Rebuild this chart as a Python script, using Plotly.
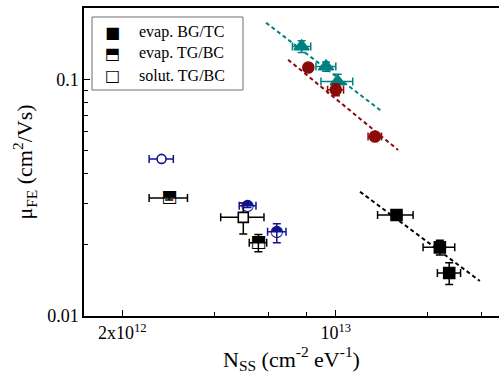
import math
import plotly.graph_objects as go

# ---------------- data ----------------
# evap. BG/TC (black filled squares)
bgtc_x = [1.58e13, 2.19e13, 2.35e13]
bgtc_y = [0.0267, 0.0195, 0.0152]
bgtc_xerr_m = [0.21e13, 0.26e13, 0.20e13]
bgtc_xerr_p = [0.21e13, 0.26e13, 0.21e13]
bgtc_yerr = [0.0007, 0.0014, 0.0016]

# evap. TG/BC (black half-filled squares)
tgbc_x = [2.85e12, 5.58e12]
tgbc_y = [0.0315, 0.0204]
tgbc_xerr_m = [0.40e12, 0.37e12]
tgbc_xerr_p = [0.42e12, 0.36e12]
tgbc_yerr = [0.0006, 0.0017]

# solut. TG/BC (black open squares)
sol_x = [4.98e12]
sol_y = [0.0261]
sol_xerr_m = [0.78e12]
sol_xerr_p = [0.84e12]
sol_yerr = [0.0039]

# teal triangles
tri_x = [7.73e12, 9.29e12, 1.014e13]
tri_y = [0.1376, 0.1132, 0.0979]
tri_xerr_m = [0.52e12, 0.68e12, 1.20e12]
tri_xerr_p = [0.55e12, 0.71e12, 1.22e12]
tri_yerr = [0.0078, 0.0050, 0.0070]

# dark red circles
red_x = [8.13e12, 1.00e13, 1.343e13]
red_y = [0.1122, 0.0903, 0.0573]
red_xerr = [0.0, 0.60e12, 0.68e12]
red_yerr = [0.0, 0.0051, 0.0010]

# blue open circle
bo_x = [2.69e12]
bo_y = [0.0461]
bo_xerr_m = [0.24e12]
bo_xerr_p = [0.25e12]
bo_yerr = [0.0008]

# blue half-filled circles
bh_x = [5.14e12, 6.41e12]
bh_y = [0.0292, 0.0227]
bh_xerr_m = [0.31e12, 0.43e12]
bh_xerr_p = [0.34e12, 0.46e12]
bh_yerr_m = [0.0005, 0.0023]
bh_yerr_p = [0.0005, 0.0018]

# dashed fit lines (end points)
fit_black_x = [1.20e13, 2.96e13]
fit_black_y = [0.0335, 0.01406]
fit_teal_x = [5.91e12, 1.406e13]
fit_teal_y = [0.1734, 0.0736]
fit_red_x = [6.98e12, 1.598e13]
fit_red_y = [0.1210, 0.0503]

# ticks
x_major = [2e12, 1e13]
x_major_text = ["2x10<sup>12</sup>", "10<sup>13</sup>"]
x_minor = [4e12, 6e12, 8e12, 2e13, 3e13]
y_major = [0.01, 0.1]
y_major_text = ["0.01", "0.1"]
y_minor = [0.02, 0.03, 0.04, 0.05, 0.06, 0.07, 0.08, 0.09]

legend_labels = ["evap. BG/TC", "evap. TG/BC", "solut. TG/BC"]
legend_glyphs = ["\u25A0", "\u2B12", "\u25A1"]

BLACK = "#000000"
TEAL = "#008080"
RED = "#8b0a0a"
BLUE = "#12128f"
SERIF = "Liberation Serif, Times New Roman, serif"

fig = go.Figure()

# fit lines
for fx, fy, c in [(fit_black_x, fit_black_y, BLACK), (fit_teal_x, fit_teal_y, TEAL), (fit_red_x, fit_red_y, RED)]:
    fig.add_trace(go.Scatter(x=fx, y=fy, mode="lines",
                             line=dict(color=c, width=2, dash="4px,3px"),
                             showlegend=False, hoverinfo="skip"))


def err(arr_p, arr_m, color, w=4):
    return dict(type="data", symmetric=False, array=arr_p, arrayminus=arr_m,
                color=color, thickness=1.5, width=w)


def add_series(x, y, xp, xm, yp, ym, color, symbol, size, fill=None):
    fig.add_trace(go.Scatter(
        x=x, y=y, mode="markers",
        marker=dict(symbol=symbol, size=size, color=fill if fill else color,
                    line=dict(color=color, width=1.6)),
        error_x=err(xp, xm, color), error_y=err(yp, ym, color),
        showlegend=False))


def add_glyph(x, y, xp, xm, yp, ym, color, glyph, fsize):
    fig.add_trace(go.Scatter(
        x=x, y=y, mode="markers",
        marker=dict(size=1, color="rgba(0,0,0,0)"),
        error_x=err(xp, xm, color), error_y=err(yp, ym, color),
        showlegend=False))
    fig.add_trace(go.Scatter(
        x=x, y=y, mode="text", text=[glyph] * len(x),
        textposition="middle center",
        textfont=dict(family="DejaVu Sans", size=fsize, color=color),
        showlegend=False, hoverinfo="skip"))


# black filled squares
add_series(bgtc_x, bgtc_y, bgtc_xerr_p, bgtc_xerr_m, bgtc_yerr, bgtc_yerr, BLACK, "square", 11)
# teal triangles
add_series(tri_x, tri_y, tri_xerr_p, tri_xerr_m, tri_yerr, tri_yerr, TEAL, "triangle-up", 13)
# red circles
add_series(red_x, red_y, red_xerr, red_xerr, red_yerr, red_yerr, RED, "circle", 11)
# blue open circle
add_series(bo_x, bo_y, bo_xerr_p, bo_xerr_m, bo_yerr, bo_yerr, BLUE, "circle", 9, fill="white")
# open square
add_series(sol_x, sol_y, sol_xerr_p, sol_xerr_m, sol_yerr, sol_yerr, BLACK, "square", 10, fill="white")
# half-filled squares
add_glyph(tgbc_x, tgbc_y, tgbc_xerr_p, tgbc_xerr_m, tgbc_yerr, tgbc_yerr, BLACK, "\u2B12", 17)
# half-filled blue circles
add_glyph(bh_x, bh_y, bh_xerr_p, bh_xerr_m, bh_yerr_p, bh_yerr_m, BLUE, "\u25D3", 16)

# legend (manual)
L, R, T, B = 84, 0, 8, 65
W, H = 499 - L - R, 381 - T - B


def px(xp):
    return (xp - L) / W


def py(yp):
    return (T + H - yp) / H


shapes = [dict(type="rect", xref="paper", yref="paper",
               x0=px(92), x1=px(243), y0=py(90), y1=py(17),
               line=dict(color="#6e6e6e", width=1), fillcolor="white", layer="above")]
annotations = []
rows = [32, 53.5, 75.5]
for lab, gl, r in zip(legend_labels, legend_glyphs, rows):
    annotations.append(dict(xref="paper", yref="paper", x=px(112), y=py(r),
                            text=gl, showarrow=False, xanchor="center", yanchor="middle",
                            font=dict(family="DejaVu Sans", size=16, color="black")))
    annotations.append(dict(xref="paper", yref="paper", x=px(137), y=py(r),
                            text=lab, showarrow=False, xanchor="left", yanchor="middle",
                            font=dict(family=SERIF, size=16, color="black")))

fig.update_layout(
    width=499, height=381,
    margin=dict(l=L, r=R, t=T, b=B, autoexpand=False),
    paper_bgcolor="white", plot_bgcolor="white",
    showlegend=False,
    shapes=shapes, annotations=annotations,
    font=dict(family=SERIF, color="black"),
)

fig.update_xaxes(
    type="log", range=[12.176, 13.534], automargin=False,
    showline=True, linecolor="black", linewidth=1.5, mirror=True,
    showgrid=False, zeroline=False,
    ticks="inside", ticklen=6, tickwidth=1.2, tickcolor="black",
    tickmode="array", tickvals=x_major, ticktext=x_major_text,
    tickfont=dict(family=SERIF, size=18),
    minor=dict(tickmode="array", tickvals=x_minor, ticks="inside", ticklen=4,
               tickwidth=1.2, tickcolor="black", showgrid=False),
    title=dict(text="N<sub>SS</sub> (cm<sup>-2</sup> eV<sup>-1</sup>)",
               font=dict(family=SERIF, size=22), standoff=4),
)
fig.update_yaxes(
    type="log", range=[-2, math.log10(0.2)], automargin=False,
    showline=True, linecolor="black", linewidth=1.5,
    showgrid=False, zeroline=False,
    ticks="inside", ticklen=6, tickwidth=1.2, tickcolor="black",
    tickmode="array", tickvals=y_major, ticktext=y_major_text,
    tickfont=dict(family=SERIF, size=18),
    minor=dict(tickmode="array", tickvals=y_minor, ticks="inside", ticklen=4,
               tickwidth=1.2, tickcolor="black", showgrid=False),
    title=dict(text="\u03bc<sub>FE</sub> (cm<sup>2</sup>/Vs)",
               font=dict(family=SERIF, size=22), standoff=8),
)

fig.write_html("out.html", config={"displayModeBar": False},
               post_script="document.body.style.margin='0';document.body.style.overflow='hidden';")
